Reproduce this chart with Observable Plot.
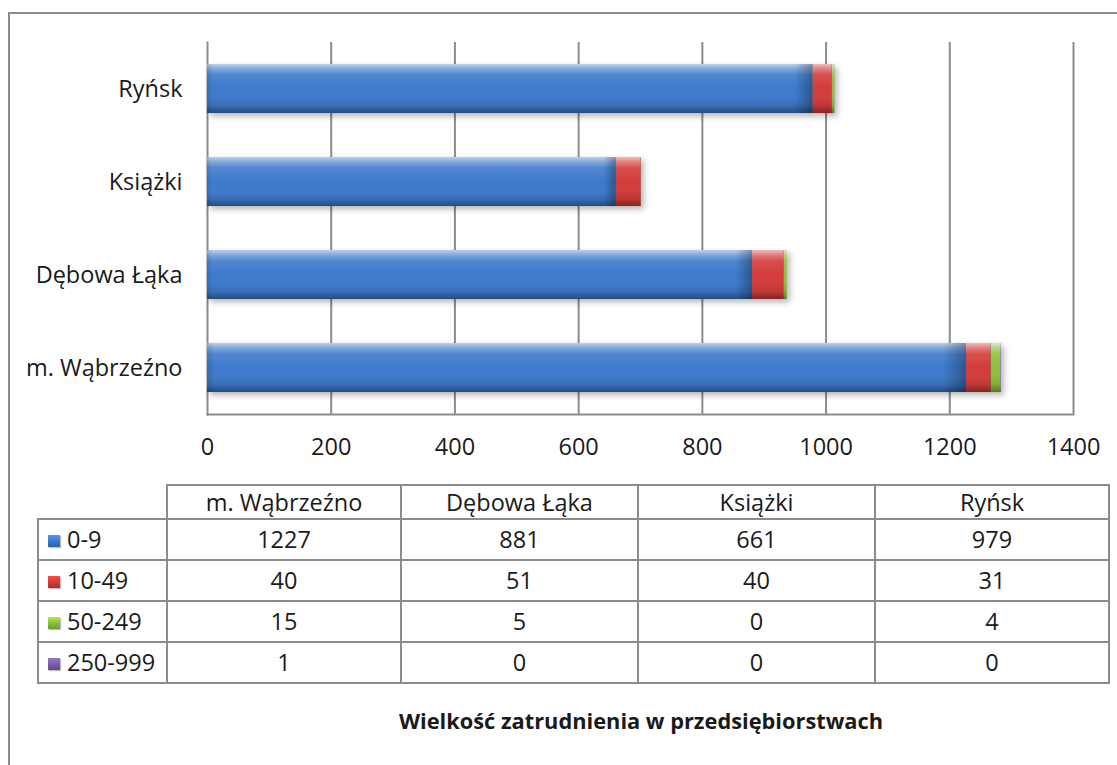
<!DOCTYPE html>
<html>
<head>
<meta charset="utf-8">
<script src="https://cdn.jsdelivr.net/npm/d3@7"></script>
<script src="https://cdn.jsdelivr.net/npm/@observablehq/plot@0.6"></script>
<style>
  html, body { margin: 0; padding: 0; background: #fff; overflow: hidden; }
  body { width: 1117px; height: 765px; position: relative; font-family: "Open Sans", sans-serif; color: #1a1a1a; }
  #frame { position: absolute; left: 8px; top: 12px; width: 1300px; height: 900px; border-top: 2px solid #8c8c8c; border-left: 2px solid #8c8c8c; box-sizing: border-box; }
  #chart { position: absolute; left: 0; top: 0; }
  #tbl { position: absolute; left: 37px; top: 484px; border-collapse: collapse; font-size: 23.5px; }
  #tbl td { border: 2px solid #8c8c8c; text-align: center; padding: 0; height: 39px; line-height: 39px; }
  #tbl tr.head td { height: 32px; line-height: 32px; }
  #tbl td.blank { border: none; border-right: 2px solid #8c8c8c; border-bottom: 2px solid #8c8c8c; }
  #tbl td.leg { text-align: left; padding-left: 9px; }
  .sw { display: inline-block; width: 12px; height: 12px; margin-right: 7px; vertical-align: 1px; box-shadow: 1px 1px 1px rgba(0,0,0,0.25); }
  #title { position: absolute; left: 0; width: 1282px; top: 706px; text-align: center; font-weight: bold; font-size: 21.8px; letter-spacing: 0px; }
</style>
</head>
<body>
<div id="frame"></div>
<div id="chart"></div>
<table id="tbl"></table>
<div id="title">Wielkość zatrudnienia w przedsiębiorstwach</div>
<script>
const categories = ["m. Wąbrzeźno", "Dębowa Łąka", "Książki", "Ryńsk"];
const series = ["0-9", "10-49", "50-249", "250-999"];
const values_0_9 = [1227, 881, 661, 979];
const values_10_49 = [40, 51, 40, 31];
const values_50_249 = [15, 5, 0, 4];
const values_250_999 = [1, 0, 0, 0];
const xTicks = [0, 200, 400, 600, 800, 1000, 1200, 1400];
const colors = ["#3d7acb", "#d33c3b", "#8dbf3c", "#7b5ea7"];

const seriesValues = [values_0_9, values_10_49, values_50_249, values_250_999];
const data = [];
series.forEach((s, si) => {
  categories.forEach((c, ci) => {
    data.push({ category: c, series: s, value: seriesValues[si][ci] });
  });
});

const stackOpts = { x: "value", y: "category", z: "series", order: series };

const plot = Plot.plot({
  width: 1117,
  height: 470,
  marginLeft: 207,
  marginRight: 44,
  marginTop: 42,
  marginBottom: 56,
  style: { fontFamily: "Open Sans, sans-serif", color: "#1a1a1a", background: "transparent" },
  x: { domain: [0, 1400], label: null },
  y: { domain: categories.slice().reverse(), paddingInner: 0.47, paddingOuter: 0.235, label: null },
  color: { domain: series, range: colors },
  marks: [
    Plot.ruleX(xTicks.filter(d => d > 0), { stroke: "#8c8c8c", strokeWidth: 2, strokeOpacity: 1 }),
    Plot.frame({ anchor: "left", stroke: "#8c8c8c", strokeWidth: 2 }),
    Plot.frame({ anchor: "bottom", stroke: "#8c8c8c", strokeWidth: 2 }),
    Plot.axisX({ ticks: xTicks, tickSize: 0, tickPadding: 24, fontSize: 23.5, tickFormat: d => String(d), label: null }),
    Plot.axisY({ tickSize: 0, tickPadding: 25, fontSize: 23.5, label: null }),
    Plot.barX(data, Plot.stackX({ ...stackOpts, fill: "series" })),
    Plot.barX(data, Plot.stackX({ ...stackOpts, fill: "url(#shine)" })),
    Plot.barX(data, Plot.stackX({ ...stackOpts, fill: "url(#bevel)" }))
  ]
});
document.getElementById("chart").appendChild(plot);

const svg = d3.select(plot);
const defs = svg.insert("defs", ":first-child");
const g1 = defs.append("linearGradient").attr("id", "shine").attr("x1", 0).attr("y1", 0).attr("x2", 0).attr("y2", 1);
[[0, "#ffffff", 0.65], [0.1, "#ffffff", 0.35], [0.22, "#ffffff", 0.1], [0.5, "#ffffff", 0], [0.85, "#000000", 0.1], [1, "#000000", 0.38]]
  .forEach(([o, c, a]) => g1.append("stop").attr("offset", o).attr("stop-color", c).attr("stop-opacity", a));
const g2 = defs.append("linearGradient").attr("id", "bevel").attr("x1", 0).attr("y1", 0).attr("x2", 1).attr("y2", 0);
[[0, "#000000", 0.12], [0.01, "#000000", 0], [0.97, "#000000", 0], [1, "#000000", 0.3]]
  .forEach(([o, c, a]) => g2.append("stop").attr("offset", o).attr("stop-color", c).attr("stop-opacity", a));
const bars = svg.selectAll("g[aria-label='bar']");
bars.filter((d, i) => i === 0).style("filter", "drop-shadow(3px 3px 3px rgba(0,0,0,0.3))");

// data table
const tbl = d3.select("#tbl");
const colW = [128, 232, 235, 235, 232];
const head = tbl.append("tr").attr("class", "head");
head.append("td").attr("class", "blank").style("width", colW[0] + "px");
categories.forEach((c, i) => head.append("td").style("width", colW[i + 1] + "px").text(c));
series.forEach((s, si) => {
  const tr = tbl.append("tr");
  const td = tr.append("td").attr("class", "leg");
  td.append("span").attr("class", "sw")
    .style("background", `linear-gradient(${d3.color(colors[si]).brighter(0.6)}, ${colors[si]} 50%, ${d3.color(colors[si]).darker(0.6)})`);
  td.append("span").text(s);
  seriesValues[si].forEach(v => tr.append("td").text(v));
});
</script>
</body>
</html>
